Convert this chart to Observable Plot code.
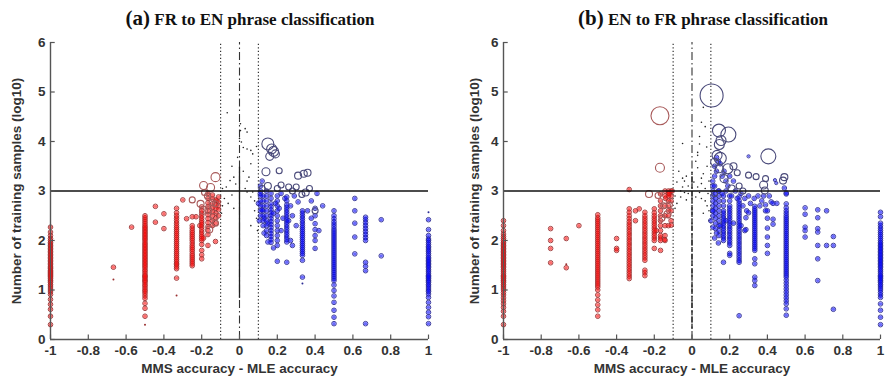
<!DOCTYPE html>
<html><head><meta charset="utf-8">
<script src="https://cdn.jsdelivr.net/npm/d3@7"></script>
<script src="https://cdn.jsdelivr.net/npm/@observablehq/plot@0.6"></script>
<style>
body{margin:0;background:#fff;}
#wrap{position:relative;width:886px;height:380px;overflow:hidden;background:#fff;}
.title{position:absolute;top:4px;line-height:28px;font-family:"Liberation Serif","Times New Roman",serif;font-weight:bold;font-size:17px;color:#111;white-space:nowrap;transform:translateX(-50%);}
.title .p{font-size:21px;}
.panel{position:absolute;top:0;}
.panel svg{overflow:visible;}
</style></head><body><div id="wrap"></div>
<script>
// ---------- shared ----------
const xTicks = [-1,-0.8,-0.6,-0.4,-0.2,0,0.2,0.4,0.6,0.8,1];
const yTicks = [0,1,2,3,4,5,6];
const xLabel = "MMS accuracy - MLE accuracy";
const yLabel = "Number of training samples (log10)";
const titles = [["(a)", "FR to EN phrase classification"], ["(b)", "EN to FR phrase classification"]];
const threshold = 3;
const guides = [-0.1, 0.1];

// ---------- panel (a): columns [x, [y...]] ----------
const aRedCols = [
  [-1,[0.30,0.47,0.61,0.71,0.81,0.91,0.96,1.00,1.04,1.08,1.11,1.15,1.18,1.20,1.23,1.26,1.28,1.30,1.32,1.34,1.36,1.38,1.40,1.43,1.45,1.48,1.51,1.54,1.57,1.60,1.63,1.66,1.69,1.72,1.75,1.78,1.81,1.84,1.87,1.90,1.93,1.96,2.00,2.04,2.10,2.17,2.27]],
  [-0.667,[1.46]],
  [-0.571,[2.27]],
  [-0.5,[0.47,0.63,0.73,0.83,0.88,0.93,0.97,1.00,1.04,1.08,1.11,1.15,1.18,1.20,1.23,1.26,1.28,1.30,1.34,1.38,1.41,1.45,1.48,1.51,1.54,1.57,1.60,1.63,1.66,1.69,1.72,1.75,1.78,1.81,1.84,1.87,1.90,1.93,1.96,2.00,2.03,2.06,2.09,2.12,2.15,2.18,2.21,2.24,2.27,2.30,2.34,2.38,2.42,2.46,2.50]],
  [-0.445,[2.37,2.69]],
  [-0.4,[2.24,2.54]],
  [-0.333,[1.24,1.43,1.47,1.51,1.54,1.58,1.62,1.66,1.70,1.74,1.78,1.82,1.86,1.90,1.94,1.98,2.02,2.06,2.10,2.14,2.18,2.22,2.26,2.30,2.35,2.40,2.45,2.50,2.56,2.65]],
  [-0.3,[2.82]],
  [-0.28,[2.44]],
  [-0.25,[1.49,1.53,1.57,1.61,1.65,1.69,1.73,1.78,1.82,1.86,1.90,1.95,2.00,2.04,2.08,2.12,2.16,2.20,2.25,2.30,2.48]],
  [-0.2,[1.63,1.71,1.80,1.92,2.00,2.04,2.08,2.12,2.17,2.22,2.27,2.32,2.36,2.40,2.45,2.50,2.55,2.60,2.68]],
  [-0.167,[1.90,2.12,2.20,2.28,2.36,2.44,2.52,2.60,2.68,2.76,2.85,2.95]],
  [-0.143,[2.30,2.40,2.50,2.58,2.66,2.74,2.84,2.92]],
  [-0.125,[2.35,2.45,2.55,2.65,2.72,2.82]],
  [-0.111,[2.50,2.62,2.70,2.78,2.88]]
];
// single points [x, y, radius]
const aRedFree = [
  [-0.667,1.21,1],[-0.5,0.30,1],[-0.333,0.89,1],[-0.25,2.82,3],
  [-0.19,3.11,4],[-0.153,3.07,4],[-0.127,3.28,4.5],[-0.185,2.97,3],[-0.17,2.90,3],[-0.206,2.74,3.5],
  [-0.19,2.61,4],[-0.145,2.77,3],[-0.165,2.61,3.5],[-0.127,2.74,3],[-0.135,2.48,3.5],[-0.127,2.35,3],
  [-0.16,2.22,3.5],[-0.127,1.98,2.3],[-0.19,2.05,2.3],[-0.12,2.80,2.3],[-0.21,2.30,2.3],[-0.23,2.48,2.3]
];
const aBlueCols = [
  [1,[0.32,0.46,0.55,0.65,0.75,0.85,0.92,0.97,1.00,1.04,1.08,1.11,1.15,1.18,1.20,1.23,1.26,1.28,1.30,1.34,1.38,1.41,1.45,1.48,1.51,1.54,1.57,1.60,1.63,1.66,1.70,1.74,1.78,1.81,1.85,1.88,1.92,1.96,2.00,2.03,2.10,2.22,2.42]],
  [0.75,[1.69,2.42]],
  [0.667,[0.32,1.39,1.48,1.56,2.00,2.06,2.12,2.18,2.24,2.30,2.36,2.42,2.47]],
  [0.61,[1.73,2.07,2.35,2.60,2.85]],
  [0.5,[0.32,0.45,0.59,0.75,0.88,0.99,1.10,1.19,1.23,1.27,1.31,1.35,1.39,1.43,1.47,1.51,1.55,1.59,1.63,1.67,1.71,1.75,1.79,1.83,1.87,1.91,1.95,1.99,2.03,2.07,2.11,2.15,2.19,2.23,2.28,2.33,2.38,2.44,2.50,2.60]],
  [0.4,[1.84,2.00,2.22,2.34,2.50,2.65]],
  [0.333,[1.26,1.60,1.70,1.74,1.78,1.82,1.86,1.90,1.94,1.98,2.02,2.06,2.10,2.14,2.18,2.22,2.26,2.30,2.35,2.40,2.45,2.50,2.55,2.60]],
  [0.25,[1.56,1.97,2.02,2.07,2.12,2.17,2.22,2.27,2.32,2.37,2.42,2.47,2.52,2.57,2.62,2.67,2.72,2.80,2.88]],
  [0.2,[1.58,1.90,2.00,2.10,2.20,2.30,2.40,2.50,2.60,2.70,2.80,2.90]],
  [0.167,[1.96,2.02,2.08,2.14,2.20,2.26,2.32,2.38,2.44,2.50,2.56,2.62,2.68,2.74,2.85,2.95]],
  [0.143,[2.10,2.20,2.30,2.40,2.50,2.60,2.70,2.80,2.90,3.00]],
  [0.125,[2.30,2.40,2.50,2.60,2.70,2.80,2.90]],
  [0.111,[2.50,2.60,2.70,2.80,2.90,3.00,3.10]]
];
const aBlueFree = [
  [0.333,1.13,1],[1,2.57,1],
  [0.15,3.95,6],[0.17,3.85,5],[0.18,3.80,5],[0.16,3.70,4],[0.19,3.75,4],[0.14,3.39,4],[0.21,3.41,3],
  [0.31,3.31,3.5],[0.34,3.35,3.5],[0.36,3.37,3.5],[0.26,3.08,3],[0.35,2.97,3.5],[0.40,2.60,3],[0.20,3.05,3],
  [0.15,3.10,3.5],[0.22,3.12,3],[0.28,3.00,3],[0.12,3.05,3],[0.30,3.08,3],[0.37,3.05,3],[0.33,2.93,3],
  [0.44,2.70,2.3],[0.11,2.95,2.3],[0.12,2.62,2.3],[0.13,2.45,2.3],[0.15,2.35,2.3],[0.18,2.55,2.3],[0.19,2.75,2.3],
  [0.21,2.65,2.3],[0.22,2.95,2.3],[0.23,2.45,2.3],[0.24,2.85,2.3],[0.27,2.70,2.3],[0.28,2.50,2.3],[0.29,2.90,2.3],
  [0.30,2.30,2.3],[0.31,2.78,2.3],[0.36,2.60,2.3],[0.38,2.45,2.3],[0.42,2.20,2.3],[0.27,2.00,2.3],[0.28,1.90,2.3],
  [0.15,1.97,2.3],[0.18,1.85,2.3],[0.10,2.75,2.3],[0.105,2.40,2.3],[0.13,2.15,2.3],[0.22,2.20,2.3],[0.26,2.40,2.3],
  [0.38,2.80,2.3],[0.41,2.95,2.3],[0.12,3.20,2.3],[0.40,2.10,2.3]
];
const aDots = [
  [-0.065,4.58],[0.005,4.36],[0.005,4.22],[0.03,4.26],[0.04,4.19],[0.0,4.06],[0.01,3.99],[0.02,3.88],[0.04,3.85],
  [0.06,3.82],[-0.01,3.68],[0.07,3.75],[-0.03,3.28],[-0.05,3.21],[-0.02,3.14],[0.05,3.28],[0.04,3.20],[-0.07,3.08],
  [-0.09,3.05],[0.03,3.05],[0.04,2.98],[0.07,2.98],[-0.04,2.92],[-0.08,2.85],[0.06,2.88],[0.08,2.80],[-0.06,2.75],
  [-0.03,2.65],[0.08,2.60],[0.09,2.45],[-0.09,2.70],[0.06,2.30],[0.095,2.20],[-0.095,2.55],[0.02,3.40],[-0.04,3.50],
  [0.06,3.55],[0.09,3.90],[-0.10,2.90]
];
const aZeroSpan = [0.83, 3.48];

// ---------- panel (b) ----------
const bRedCols = [
  [-1,[0.30,0.47,0.57,0.65,0.72,0.78,0.84,0.90,0.95,1.00,1.04,1.08,1.11,1.15,1.18,1.20,1.23,1.26,1.28,1.30,1.34,1.38,1.41,1.45,1.48,1.51,1.54,1.57,1.60,1.63,1.66,1.69,1.72,1.75,1.78,1.81,1.84,1.87,1.90,1.93,1.96,2.00,2.04,2.08,2.13,2.20,2.30,2.40]],
  [-0.75,[1.55,1.84,2.00,2.24]],
  [-0.667,[1.45,2.04]],
  [-0.6,[2.30]],
  [-0.5,[0.47,0.60,0.70,0.80,0.90,1.00,1.06,1.10,1.14,1.18,1.22,1.26,1.30,1.34,1.38,1.42,1.46,1.50,1.54,1.58,1.62,1.66,1.70,1.74,1.78,1.82,1.86,1.90,1.94,1.98,2.02,2.06,2.10,2.14,2.18,2.22,2.26,2.30,2.34,2.38,2.42,2.46,2.52]],
  [-0.4,[1.80,1.84,2.04]],
  [-0.333,[1.23,1.28,1.33,1.38,1.43,1.48,1.53,1.58,1.63,1.68,1.73,1.78,1.83,1.88,1.93,1.98,2.03,2.08,2.13,2.18,2.23,2.28,2.33,2.38,2.44,2.50,2.57,2.64,3.03]],
  [-0.25,[1.29,1.35,1.40,1.60,1.65,1.70,1.75,1.80,1.85,1.90,1.95,2.00,2.05,2.10,2.15,2.20,2.25,2.30,2.35,2.40,2.45,2.50,2.57]],
  [-0.2,[1.84,2.00,2.05,2.10,2.15,2.20,2.25,2.30,2.35,2.40,2.45,2.50,2.56,2.64]],
  [-0.167,[1.80,2.00,2.05,2.10,2.20,2.30,2.40,2.50,2.60,2.70,2.80,2.94]],
  [-0.143,[2.00,2.10,2.30,2.50,2.70,2.90,3.00]],
  [-0.125,[2.30,2.50,2.60,2.70,2.80,2.90,2.95,3.00]],
  [-0.111,[2.40,2.60,2.80,2.90,3.00]]
];
const bRedFree = [
  [-0.667,1.52,1],[-0.17,4.52,9],[-0.17,3.47,4.5],[-0.228,2.94,3.5],[-0.18,2.91,3],[-0.13,2.53,3.5],
  [-0.145,2.02,2.3],[-0.11,2.31,2.3],[-0.15,2.70,3],[-0.12,2.72,3],[-0.16,2.45,3],[-0.30,2.40,2.3],
  [-0.30,2.60,2.3],[-0.28,2.64,2.3],[-0.14,2.85,2.3],[-0.12,2.95,2.3],[-0.105,3.00,2.3],[-0.19,2.20,2.3]
];
const bBlueCols = [
  [1,[0.30,0.45,0.59,0.72,0.85,0.90,0.95,1.00,1.04,1.08,1.11,1.15,1.18,1.20,1.23,1.26,1.28,1.30,1.34,1.38,1.41,1.45,1.48,1.51,1.54,1.57,1.60,1.63,1.66,1.69,1.72,1.75,1.78,1.81,1.84,1.87,1.90,1.93,1.96,2.00,2.04,2.08,2.12,2.16,2.20,2.25,2.30,2.35,2.48,2.57]],
  [0.75,[0.61,1.90,2.08]],
  [0.714,[1.90,2.60]],
  [0.667,[1.19,1.63,1.90,2.17,2.24,2.46,2.62]],
  [0.6,[2.07,2.20,2.27,2.53,2.66]],
  [0.5,[0.49,0.62,0.72,0.78,0.84,0.90,0.96,1.02,1.08,1.14,1.20,1.26,1.30,1.34,1.38,1.42,1.46,1.50,1.54,1.58,1.62,1.66,1.70,1.74,1.78,1.82,1.86,1.90,1.94,1.98,2.02,2.06,2.10,2.14,2.18,2.22,2.26,2.30,2.34,2.38,2.42,2.46,2.50,2.55,2.60,2.66,2.74,2.94]],
  [0.4,[1.74,1.90,2.07,2.25,2.45,2.60]],
  [0.43,[2.33,2.43]],
  [0.333,[1.09,1.19,1.26,1.53,1.63,1.80,1.84,1.88,1.92,1.96,2.00,2.04,2.08,2.12,2.16,2.20,2.24,2.28,2.32,2.36,2.40,2.44,2.48,2.52,2.56,2.60,2.64,2.69]],
  [0.286,[2.22,2.46]],
  [0.3,[2.56]],
  [0.25,[0.48,1.56,1.60,1.65,1.70,1.75,1.80,1.85,1.90,1.95,2.00,2.05,2.10,2.15,2.20,2.25,2.30,2.35,2.40,2.45,2.50,2.55,2.60,2.65,2.70,2.75,2.80,2.88]],
  [0.2,[1.70,1.74,1.90,1.95,2.00,2.05,2.10,2.15,2.20,2.25,2.30,2.35,2.40,2.45,2.50,2.55,2.60,2.65,2.70,2.80,2.90]],
  [0.167,[1.56,2.00,2.05,2.10,2.15,2.20,2.25,2.30,2.35,2.40,2.45,2.50,2.55,2.60,2.70,2.80,2.90]],
  [0.143,[2.10,2.20,2.30,2.40,2.50,2.60,2.70,2.80,2.90,3.00]],
  [0.125,[2.24,2.35,2.45,2.55,2.65,2.75,2.85,2.95]],
  [0.111,[2.27,2.50,2.60,2.70,2.80,2.90,3.00,3.10]]
];
const bBlueFree = [
  [0.104,4.93,11.5],[0.143,4.22,6.5],[0.193,4.14,7.5],[0.154,4.02,5],[0.145,3.94,5],[0.405,3.70,7.5],
  [0.133,3.72,5],[0.15,3.66,6],[0.12,3.58,4],[0.145,3.45,4],[0.19,3.45,5],[0.22,3.50,3.5],[0.24,3.37,3],
  [0.30,3.32,3],[0.34,3.29,3],[0.49,3.28,3.5],[0.39,3.25,3],[0.38,3.12,4],[0.483,3.21,3.5],[0.386,3.01,3.5],
  [0.17,3.25,4],[0.21,3.05,3.5],[0.25,3.10,3],[0.12,2.95,3],[0.27,3.00,3],
  [0.30,3.70,1.6],[0.44,3.22,1.6],[0.447,3.16,1.6],[0.49,3.06,2.3],[0.50,2.96,2.3],
  [0.11,3.20,2.3],[0.12,3.30,2.3],[0.13,3.40,2.3],[0.12,3.50,2.3],[0.14,3.60,2.3],[0.13,3.68,2.3],[0.15,3.55,2.3],
  [0.16,3.30,2.3],[0.17,3.40,2.3],[0.18,3.20,2.3],[0.19,3.10,2.3],[0.20,3.30,2.3],[0.22,3.20,2.3],[0.12,3.10,2.3],
  [0.14,3.00,2.3],[0.16,2.95,2.3],[0.18,3.00,2.3],[0.21,2.90,2.3],[0.23,3.00,2.3],[0.24,2.85,2.3],[0.26,2.95,2.3],
  [0.27,2.70,2.3],[0.28,2.85,2.3],[0.29,2.60,2.3],[0.30,2.90,2.3],[0.31,2.75,2.3],[0.33,2.85,2.3],[0.35,2.90,2.3],
  [0.36,2.70,2.3],[0.37,2.80,2.3],[0.39,2.60,2.3],[0.42,2.78,2.3],[0.45,2.75,2.3],[0.38,2.90,2.3],[0.41,2.90,2.3],
  [0.15,2.30,2.3],[0.13,2.15,2.3],[0.10,2.40,2.3],[0.11,2.60,2.3],[0.18,2.40,2.3],[0.22,2.35,2.3],[0.26,2.30,2.3],
  [0.28,2.20,2.3],[0.14,1.95,2.3],[0.12,2.05,2.3],[0.39,2.72,2.3],[0.43,2.75,2.3]
];
const bDots = [
  [0.06,4.69],[0.05,4.39],[-0.05,3.96],[0.04,3.95],[0.03,3.78],[0.03,3.72],[0.078,3.89],[-0.03,3.30],[-0.05,3.26],
  [0.00,3.37],[0.03,3.47],[0.05,3.26],[0.06,3.35],[-0.04,3.20],[-0.08,3.18],[0.01,3.18],[0.05,3.15],[-0.05,3.08],
  [-0.02,3.10],[0.03,3.08],[-0.06,3.00],[-0.04,2.97],[0.04,2.97],[-0.06,2.88],[0.02,2.88],[-0.03,2.82],[0.07,2.80],
  [0.08,2.70],[-0.08,2.75],[0.09,2.60],[-0.09,2.90],[0.07,3.05],[0.09,3.20],[-0.07,3.40],[0.02,3.60],[0.08,3.50],
  [-0.02,2.95],[0.05,2.85],[0.06,2.55],[0.09,2.40],[-0.09,2.65],[0.085,2.95],[0.04,4.10],[0.07,4.30]
];
const bZeroSpan = [0.2, 3.35];

// ---------- styles ----------
const RED_EDGE = "#9a3030", RED_FACE = "#ff0a0a", RED_BIG = "#a85a5a";
const BLUE_EDGE = "#2c2c94", BLUE_FACE = "#0505ff", BLUE_BIG = "#4a4a7a";
const SMALL_R = 2.3;

function rows(redCols, redFree, blueCols, blueFree) {
  const out = [];
  for (const [cols, free, side] of [[redCols, redFree, -1], [blueCols, blueFree, 1]]) {
    for (const [x, ys] of cols) for (const y of ys) out.push({x, y, r: SMALL_R, side});
    for (const [x, y, r] of free) out.push({x, y, r, side});
  }
  return out;
}

function panel(data, dots, zeroSpan, zeroDash, ml, mr, yLabDx) {
  const small = data.filter(d => d.r >= 1.5 && d.r < 3);
  const big = data.filter(d => d.r >= 3);
  const tiny = data.filter(d => d.r < 1.5);
  const font = {fontFamily: "'Liberation Sans', Arial, sans-serif", fontSize: "13.5px", fontWeight: "bold", color: "#333", background: "transparent"};
  return Plot.plot({
    width: 443, height: 380,
    marginTop: 42, marginBottom: 41, marginLeft: ml, marginRight: mr,
    style: font,
    x: {domain: [-1, 1], label: null},
    y: {domain: [0, 6], label: null},
    r: {type: "identity"},
    marks: [
      Plot.ruleX(guides, {y1: 0, y2: 6, stroke: "#333", strokeWidth: 1.2, strokeDasharray: "1.3,2.2"}),
      Plot.ruleX([0], {y1: 0, y2: 6, stroke: "#333", strokeWidth: 1.1, strokeDasharray: "8,3,1.5,3"}),
      Plot.ruleX([0], {y1: zeroSpan[0], y2: zeroSpan[1], stroke: "#222", strokeWidth: 1.3, strokeDasharray: zeroDash}),
      Plot.dot(dots, {x: d => d[0], y: d => d[1], r: 0.8, fill: "#222"}),
      Plot.dot(small, {x: "x", y: "y", r: "r", stroke: d => d.side < 0 ? RED_EDGE : BLUE_EDGE, strokeWidth: 0.9, fill: "none"}),
      Plot.dot(small, {x: "x", y: "y", r: d => d.r - 0.6, fill: d => d.side < 0 ? RED_FACE : BLUE_FACE, fillOpacity: 0.6}),
      Plot.dot(big, {x: "x", y: "y", r: "r", stroke: d => d.side < 0 ? RED_BIG : BLUE_BIG, strokeWidth: 1.1, fill: "none"}),
      Plot.dot(tiny, {x: "x", y: "y", r: "r", fill: d => d.side < 0 ? RED_EDGE : BLUE_EDGE}),
      Plot.ruleY([threshold], {x1: -1, x2: 1, stroke: "#111", strokeWidth: 1.6}),
      Plot.ruleX([-1], {y1: 0, y2: 6, stroke: "#555", strokeWidth: 1.4}),
      Plot.ruleY([0], {x1: -1, x2: 1, stroke: "#555", strokeWidth: 1.4}),
      Plot.ruleX(xTicks, {y1: 0, y2: 0.09, stroke: "#555", strokeWidth: 1.2}),
      Plot.ruleY(yTicks, {x1: -1, x2: -0.975, stroke: "#555", strokeWidth: 1.2}),
      Plot.axisX(xTicks, {tickSize: 0, tickPadding: 6, tickFormat: d => String(+d.toFixed(1)), fill: "#333", label: null}),
      Plot.axisY(yTicks, {tickSize: 0, tickPadding: 5, tickFormat: d => String(d), fill: "#333", label: null}),
      Plot.text([xLabel], {frameAnchor: "bottom", dy: 33, fontSize: 13.5, fill: "#333"}),
      Plot.text([yLabel], {frameAnchor: "left", dx: yLabDx, rotate: -90, textAnchor: "middle", fontSize: 13.5, fill: "#333"})
    ]
  });
}

const wrap = document.getElementById("wrap");
const figs = [
  {left: 0, data: rows(aRedCols, aRedFree, aBlueCols, aBlueFree), dots: aDots, span: aZeroSpan, dash: null, ml: 50, mr: 15, ydx: -34, tx: 250},
  {left: 443, data: rows(bRedCols, bRedFree, bBlueCols, bBlueFree), dots: bDots, span: bZeroSpan, dash: "5,2", ml: 60, mr: 6, ydx: -29, tx: 703}
];
figs.forEach((f, i) => {
  const div = document.createElement("div");
  div.className = "panel";
  div.style.left = f.left + "px";
  div.appendChild(panel(f.data, f.dots, f.span, f.dash, f.ml, f.mr, f.ydx));
  wrap.appendChild(div);
  const t = document.createElement("div");
  t.className = "title";
  t.style.left = f.tx + "px";
  const p = document.createElement("span"); p.className = "p"; p.textContent = titles[i][0];
  t.appendChild(p);
  t.appendChild(document.createTextNode(" " + titles[i][1]));
  wrap.appendChild(t);
});
</script></body></html>
